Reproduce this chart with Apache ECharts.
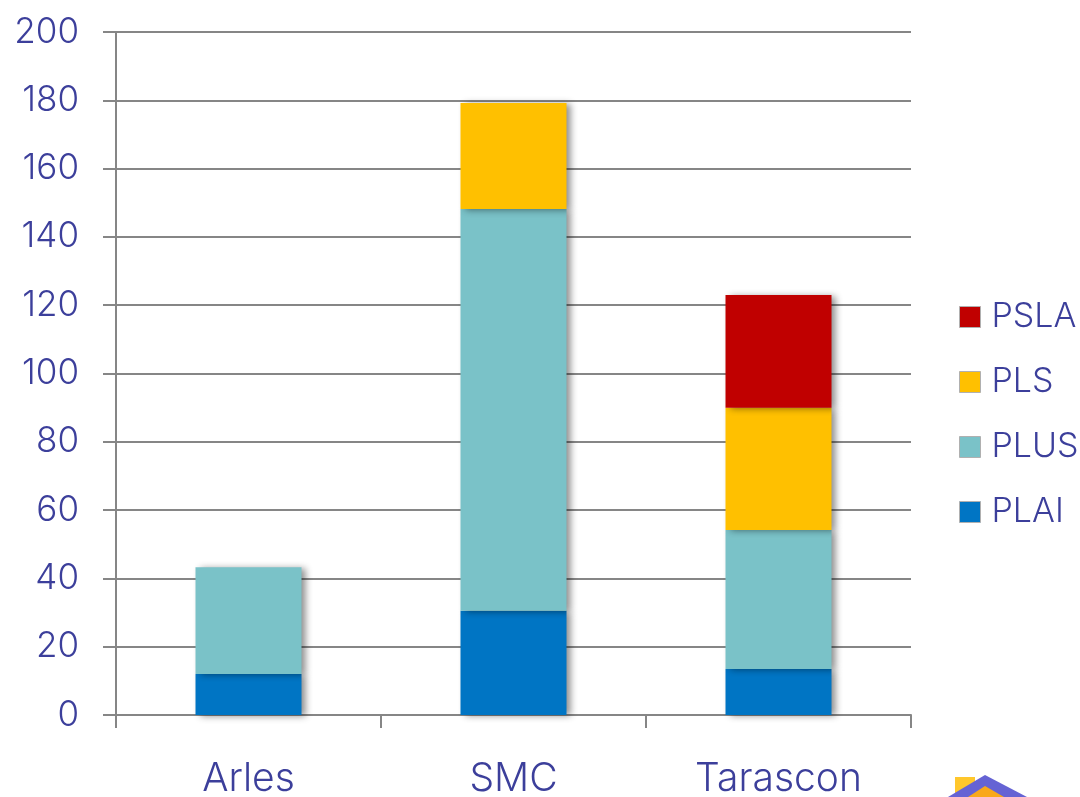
<!DOCTYPE html>
<html><head><meta charset="utf-8">
<style>html,body{margin:0;padding:0;background:#fff}#c{width:1080px;height:797px}</style>
<script src="https://cdn.jsdelivr.net/npm/echarts@6/dist/echarts.min.js"></script>
</head><body><div id="c"></div>
<script>
const categories = ['Arles','SMC','Tarascon'];
const plai = [12,30.5,13.5];
const plus = [31.3,117.7,40.7];
const pls = [null,31,35.8];
const psla = [null,null,33];
const yTicks = [0,20,40,60,80,100,120,140,160,180,200];
const legendOrder = ['PSLA','PLS','PLUS','PLAI'];
const textColor = '#3c3f9b', lineColor = '#868686', F = 'Inter';
const chart = echarts.init(document.getElementById('c'),null,{renderer:'canvas'});
const mk = (name,data,color)=>({name,type:'bar',stack:'a',data,barWidth:'40%',
  itemStyle:{color,shadowColor:'rgba(0,0,0,0.45)',shadowBlur:7,shadowOffsetX:4,shadowOffsetY:1}});
chart.setOption({
  animation:false,
  backgroundColor:'#fff',
  grid:{left:116,top:32,width:795,height:683,containLabel:false,outerBoundsMode:'none'},
  legend:{orient:'vertical',left:959,top:297,padding:0,icon:'rect',itemWidth:21,itemHeight:21,itemGap:25,
    data:legendOrder,
    itemStyle:{borderColor:'#b0b0b0',borderWidth:1,shadowBlur:0,shadowOffsetX:0,shadowOffsetY:0},
    textStyle:{fontFamily:F,fontSize:34,fontWeight:300,color:textColor,padding:[3,0,0,6],lineHeight:37}},
  xAxis:{type:'category',data:categories,
    axisLine:{lineStyle:{color:lineColor,width:2}},
    axisTick:{show:true,length:13,alignWithLabel:false,lineStyle:{color:lineColor,width:2}},
    axisLabel:{fontFamily:F,fontSize:39,fontWeight:300,color:textColor,margin:45}},
  yAxis:{type:'value',min:0,max:200,interval:20,
    axisLine:{show:true,lineStyle:{color:lineColor,width:2}},
    axisTick:{show:true,length:13,lineStyle:{color:lineColor,width:2}},
    splitLine:{show:true,lineStyle:{color:lineColor,width:2}},
    axisLabel:{fontFamily:F,fontSize:35,fontWeight:300,color:textColor,margin:37,padding:[2,0,0,0],
      formatter:v=>yTicks.includes(v)?String(v):''}},
  series:[mk('PLAI',plai,'#0075c4'),mk('PLUS',plus,'#7ac2c8'),mk('PLS',pls,'#ffc000'),mk('PSLA',psla,'#c00000')],
  graphic:[
    {type:'rect',left:955,top:777,shape:{width:20,height:20},style:{fill:'#ffc72c'},z:1},
    {type:'polygon',shape:{points:[[948,797],[985,775],[1027,797]]},style:{fill:'#6563d4'},z:2},
    {type:'polygon',shape:{points:[[968,797],[985,786],[1004,797]]},style:{fill:'#f9a81a'},z:3}
  ]
});
</script></body></html>
